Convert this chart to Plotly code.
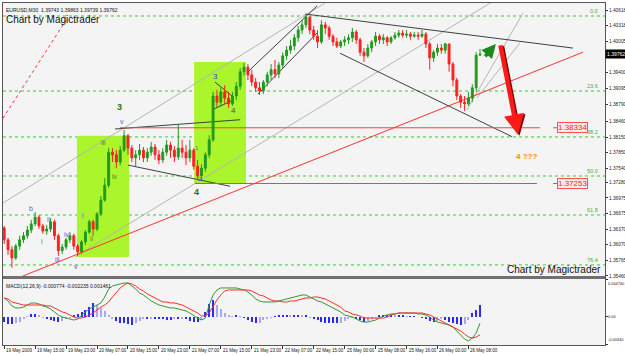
import plotly.graph_objects as go

# ---------------- data (EURUSD hourly bars) ----------------
bar_index = list(range(124))

first_open = 1.3639
closes = [1.3616, 1.3597, 1.3581, 1.3604, 1.3616, 1.3624, 1.3635, 1.3647, 1.3660, 1.3643,
          1.3633, 1.3637, 1.3651, 1.3624, 1.3595, 1.3602, 1.3616, 1.3624, 1.3604, 1.3593,
          1.3612, 1.3631, 1.3651, 1.3637, 1.3666, 1.3693, 1.3722, 1.3786, 1.3781, 1.3767,
          1.3790, 1.3818, 1.3794, 1.3775, 1.3781, 1.3790, 1.3775, 1.3786, 1.3796, 1.3781,
          1.3771, 1.3786, 1.3800, 1.3790, 1.3777, 1.3794, 1.3786, 1.3775, 1.3790, 1.3759,
          1.3740, 1.3755, 1.3781, 1.3810, 1.3895, 1.3883, 1.3903, 1.3891, 1.3880, 1.3895,
          1.3914, 1.3942, 1.3951, 1.3936, 1.3922, 1.3911, 1.3905, 1.3922, 1.3936, 1.3946,
          1.3938, 1.3955, 1.3973, 1.3984, 1.3992, 1.4008, 1.4023, 1.4033, 1.4048, 1.4023,
          1.4011, 1.4000, 1.4033, 1.4027, 1.4011, 1.4000, 1.3992, 1.4000, 1.4004, 1.4008,
          1.4019, 1.4004, 1.3980, 1.3973, 1.3988, 1.4000, 1.4011, 1.4004, 1.4008, 1.4000,
          1.4008, 1.4013, 1.4017, 1.4013, 1.4015, 1.4011, 1.4013, 1.4011, 1.4015, 1.3996,
          1.3969, 1.3980, 1.3988, 1.3984, 1.3996, 1.3957, 1.3926, 1.3895, 1.3883, 1.3880,
          1.3891, 1.3911, 1.39743, 1.39762]
highs = [1.3643, 1.3620, 1.3604, 1.3608, 1.3624, 1.3631, 1.3643, 1.3655, 1.3670, 1.3664,
         1.3647, 1.3645, 1.3658, 1.3655, 1.3628, 1.3608, 1.3620, 1.3631, 1.3628, 1.3608,
         1.3616, 1.3635, 1.3655, 1.3655, 1.3670, 1.3701, 1.3736, 1.3794, 1.3794, 1.3790,
         1.3798, 1.3829, 1.3821, 1.3800, 1.3790, 1.3802, 1.3796, 1.3794, 1.3806, 1.3802,
         1.3790, 1.3794, 1.3810, 1.3806, 1.3798, 1.3839, 1.3810, 1.3800, 1.3810, 1.3794,
         1.3771, 1.3763, 1.3786, 1.3819, 1.3903, 1.3907, 1.3911, 1.3916, 1.3903, 1.3903,
         1.3922, 1.3949, 1.3959, 1.3957, 1.3946, 1.3930, 1.3922, 1.3926, 1.3942, 1.3957,
         1.3965, 1.3961, 1.3980, 1.3992, 1.4004, 1.4015, 1.4031, 1.4042, 1.4054, 1.4050,
         1.4031, 1.4023, 1.4042, 1.4039, 1.4031, 1.4015, 1.4008, 1.4004, 1.4011, 1.4015,
         1.4027, 1.4023, 1.4008, 1.3988, 1.3996, 1.4004, 1.4019, 1.4015, 1.4015, 1.4011,
         1.4011, 1.4019, 1.4023, 1.4023, 1.4023, 1.4019, 1.4019, 1.4019, 1.4023, 1.4019,
         1.4000, 1.3984, 1.3996, 1.3996, 1.3998, 1.3996, 1.3961, 1.3930, 1.3899, 1.3895,
         1.3903, 1.3918, 1.3980, 1.39863]
lows = [1.3608, 1.3587, 1.3562, 1.3577, 1.3597, 1.3610, 1.3618, 1.3629, 1.3643, 1.3637,
        1.3628, 1.3626, 1.3631, 1.3616, 1.3585, 1.3589, 1.3597, 1.3610, 1.3597, 1.3585,
        1.3589, 1.3606, 1.3628, 1.3624, 1.3633, 1.3662, 1.3690, 1.3717, 1.3767, 1.3755,
        1.3761, 1.3786, 1.3781, 1.3767, 1.3759, 1.3771, 1.3767, 1.3767, 1.3779, 1.3771,
        1.3763, 1.3765, 1.3779, 1.3775, 1.3767, 1.3771, 1.3775, 1.3761, 1.3767, 1.3752,
        1.3732, 1.3732, 1.3748, 1.3775, 1.3806, 1.3872, 1.3876, 1.3880, 1.3872, 1.3876,
        1.3887, 1.3907, 1.3934, 1.3926, 1.3914, 1.3903, 1.3897, 1.3899, 1.3914, 1.3926,
        1.3930, 1.3930, 1.3949, 1.3965, 1.3977, 1.3984, 1.4000, 1.4015, 1.4027, 1.4015,
        1.4004, 1.3988, 1.3996, 1.4015, 1.4004, 1.3992, 1.3988, 1.3988, 1.3992, 1.3996,
        1.4000, 1.3996, 1.3973, 1.3961, 1.3969, 1.3980, 1.3992, 1.3996, 1.3996, 1.3992,
        1.3996, 1.4004, 1.4008, 1.4008, 1.4008, 1.4004, 1.4008, 1.4004, 1.4008, 1.3988,
        1.3946, 1.3961, 1.3973, 1.3977, 1.3977, 1.3942, 1.3914, 1.3887, 1.3872, 1.3866,
        1.3876, 1.3883, 1.3903, 1.39739]

macd_main = [0.00238, 0.00200, 0.00138, 0.00113, 0.00113, 0.00125, 0.00150, 0.00175, 0.00175, 0.00163,
             0.00138, 0.00125, 0.00100, 0.00063, 0.00025, 0.00000, -0.00013, -0.00025, -0.00038, -0.00025,
             0.00025, 0.00063, 0.00100, 0.00125, 0.00150, 0.00175, 0.00250, 0.00350, 0.00388, 0.00400,
             0.00413, 0.00425, 0.00425, 0.00388, 0.00350, 0.00300, 0.00275, 0.00238, 0.00200, 0.00175,
             0.00150, 0.00138, 0.00125, 0.00113, 0.00113, 0.00100, 0.00088, 0.00075, 0.00050, 0.00013,
             -0.00013, -0.00038, -0.00013, 0.00150, 0.00275, 0.00338, 0.00363, 0.00363, 0.00363, 0.00363,
             0.00363, 0.00350, 0.00338, 0.00313, 0.00275, 0.00225, 0.00200, 0.00188, 0.00188, 0.00188,
             0.00188, 0.00200, 0.00213, 0.00225, 0.00238, 0.00250, 0.00263, 0.00275, 0.00275, 0.00250,
             0.00225, 0.00200, 0.00188, 0.00163, 0.00138, 0.00113, 0.00088, 0.00063, 0.00025, 0.00013,
             0.00000, -0.00025, -0.00050, -0.00063, -0.00063, -0.00050, -0.00038, -0.00013, 0.00013, 0.00025,
             0.00038, 0.00038, 0.00050, 0.00050, 0.00050, 0.00050, 0.00050, 0.00038, 0.00038, 0.00025,
             0.00000, -0.00038, -0.00063, -0.00075, -0.00088, -0.00100, -0.00125, -0.00175, -0.00225, -0.00275,
             -0.00300, -0.00263, -0.00200, -0.000774]
macd_signal = [0.00238, 0.00225, 0.00188, 0.00175, 0.00163, 0.00150, 0.00150, 0.00150, 0.00150, 0.00150,
               0.00150, 0.00138, 0.00138, 0.00113, 0.00088, 0.00063, 0.00050, 0.00025, 0.00000, -0.00013,
               -0.00013, 0.00000, 0.00025, 0.00050, 0.00088, 0.00125, 0.00150, 0.00188, 0.00250, 0.00313,
               0.00363, 0.00400, 0.00425, 0.00413, 0.00388, 0.00350, 0.00325, 0.00288, 0.00263, 0.00238,
               0.00213, 0.00188, 0.00188, 0.00175, 0.00175, 0.00163, 0.00150, 0.00125, 0.00100, 0.00075,
               0.00050, 0.00013, 0.00013, 0.00050, 0.00138, 0.00213, 0.00275, 0.00325, 0.00338, 0.00338,
               0.00338, 0.00338, 0.00338, 0.00338, 0.00325, 0.00300, 0.00275, 0.00263, 0.00238, 0.00213,
               0.00200, 0.00200, 0.00188, 0.00188, 0.00200, 0.00200, 0.00213, 0.00225, 0.00238, 0.00238,
               0.00250, 0.00250, 0.00238, 0.00225, 0.00200, 0.00175, 0.00150, 0.00125, 0.00075, 0.00063,
               0.00038, 0.00025, 0.00013, -0.00013, -0.00013, -0.00013, -0.00013, -0.00013, -0.00013, 0.00000,
               0.00025, 0.00038, 0.00050, 0.00050, 0.00050, 0.00050, 0.00050, 0.00050, 0.00050, 0.00038,
               0.00025, 0.00000, -0.00025, -0.00050, -0.00075, -0.00100, -0.00125, -0.00150, -0.00175, -0.00213,
               -0.00250, -0.00263, -0.00250, -0.002235]
macd_hist = [-0.0006, -0.0009, -0.0009, -0.0008, -0.0006, -0.0003, 0.0001, 0.0004, 0.0004, 0.0002,
             -0.0001, -0.0002, -0.0004, -0.0005, -0.0006, -0.0005, -0.0003, -0.0001, 0.0002, 0.0004,
             0.0006, 0.0009, 0.0012, 0.0018, 0.0015, 0.0011, 0.0007, 0.0003, -0.0002, -0.0005,
             -0.0007, -0.0008, -0.0009, -0.0010, -0.0008, -0.0005, -0.0003, -0.0003, -0.0002, -0.0002,
             -0.0003, -0.0003, -0.0004, -0.0004, -0.0003, -0.0003, -0.0002, -0.0003, -0.0005, -0.0006,
             -0.0006, -0.0004, 0.0006, 0.0016, 0.0021, 0.0015, 0.0010, 0.0005, 0.0002, 0.0001,
             0.0002, 0.0001, -0.0001, -0.0004, -0.0006, -0.0008, -0.0007, -0.0004, -0.0002, -0.0001,
             0.0001, 0.0002, 0.0002, 0.0003, 0.0002, 0.0003, 0.0003, 0.0002, 0.0002, -0.0001,
             -0.0003, -0.0004, -0.0006, -0.0007, -0.0008, -0.0008, -0.0008, -0.0007, -0.0005, -0.0002,
             -0.0001, -0.0002, -0.0004, -0.0006, -0.0005, -0.0003, -0.0001, 0.0002, 0.0003, 0.0003,
             0.0003, 0.0002, 0.0002, 0.0002, 0.0001, 0.0001, 0.0001, 0.0000, -0.0001, -0.0003,
             -0.0005, -0.0006, -0.0005, -0.0003, -0.0004, -0.0006, -0.0008, -0.0009, -0.0010, -0.0009,
             -0.0004, 0.0005, 0.0009, 0.001461]

date_tick_index = [0, 8, 16, 24, 32, 40, 48, 56, 64, 72, 80, 88, 96, 104, 112, 120]
date_tick_text = ["19 May 2009", "19 May 15:00", "19 May 23:00", "20 May 07:00", "20 May 15:00",
                  "20 May 23:00", "21 May 07:00", "21 May 15:00", "21 May 23:00", "22 May 07:00",
                  "22 May 15:00", "25 May 00:00", "25 May 08:00", "25 May 16:00", "26 May 00:00",
                  "26 May 08:00"]

price_ticks = [1.40618, 1.40318, 1.40005, 1.39400, 1.39095, 1.38790, 1.38460, 1.38150, 1.37850,
               1.37540, 1.37280, 1.36975, 1.36675, 1.36370, 1.36070, 1.35765, 1.35460]
fib_levels = [1.40502, 1.39047, 1.38156, 1.37399, 1.36643, 1.35674]
fib_labels = ["0.0", "23.6", "38.2", "50.0", "61.8", "76.4"]
level_lines = [1.38334, 1.37253]
last_price = 1.39762
macd_ticks = [0.00474, 0.0, -0.0034]
macd_tick_text = ["0.004740", "0.00", "-0.00340"]

# ---------------- figure ----------------
opens = [first_open] + closes[:-1]
FONT = "Liberation Sans"

fig = go.Figure()
fig.add_trace(go.Candlestick(
    x=bar_index, open=opens, high=highs, low=lows, close=closes,
    increasing=dict(line=dict(color="#1f9a1f", width=1), fillcolor="#1f9a1f"),
    decreasing=dict(line=dict(color="#ff2020", width=1), fillcolor="#ff2020"),
    whiskerwidth=0, xaxis="x", yaxis="y", showlegend=False, hoverinfo="skip"))

hist_colors = []
for i, h in enumerate(macd_hist):
    prev = macd_hist[i - 1] if i > 0 else 0
    hist_colors.append("#2a2aff" if abs(h) >= abs(prev) else "#a8a8f5")
fig.add_trace(go.Bar(x=bar_index, y=macd_hist, marker=dict(color=hist_colors, line=dict(width=0)),
                     width=0.26, xaxis="x2", yaxis="y2", showlegend=False, hoverinfo="skip"))
fig.add_trace(go.Scatter(x=bar_index, y=macd_main, mode="lines", line=dict(color="#2e9a2e", width=1),
                         xaxis="x2", yaxis="y2", showlegend=False, hoverinfo="skip"))
fig.add_trace(go.Scatter(x=bar_index, y=macd_signal, mode="lines", line=dict(color="#ff2a2a", width=1),
                         xaxis="x2", yaxis="y2", showlegend=False, hoverinfo="skip"))

shapes = []
annotations = []

# green highlight boxes (below candles)
for x0, x1, y0, y1 in [(18.8, 32.3, 1.3583, 1.3818), (49.1, 62.5, 1.3726, 1.3961)]:
    shapes.append(dict(type="rect", xref="x", yref="y", x0=x0, x1=x1, y0=y0, y1=y1,
                       fillcolor="#abf52c", line=dict(width=0), layer="below"))

# fibonacci dotted levels
for lv, lb in zip(fib_levels, fib_labels):
    shapes.append(dict(type="line", xref="paper", yref="y", x0=0, x1=1, y0=lv, y1=lv,
                       line=dict(color="#3cc83c", width=1, dash="dot"), layer="below"))
    annotations.append(dict(x=0.992, xref="paper", y=lv, yref="y", text=lb, showarrow=False,
                            xanchor="right", yanchor="bottom", font=dict(size=5.5, color="#40b040", family=FONT)))

def seg(x0, y0, x1, y1, color, width=1, dash="solid", layer="below"):
    shapes.append(dict(type="line", xref="x", yref="y", x0=x0, y0=y0, x1=x1, y1=y1,
                       line=dict(color=color, width=width, dash=dash), layer=layer))

# gray channel lines
seg(-1.08, 1.3684, 84.2, 1.40812, "#b4b4b4")
seg(18.3, 1.3583, 126.9, 1.40812, "#b4b4b4")
seg(119.6, 1.3868, 134.1, 1.4056, "#b4b4b4")
seg(122.2, 1.3891, 133.3, 1.3998, "#b4b4b4")
# dark trend lines
seg(77.8, 1.4054, 147.0, 1.3988, "#404040")
seg(86.8, 1.3978, 131.3, 1.3816, "#404040")
seg(63.0, 1.3942, 80.9, 1.4070, "#404040")
seg(65.6, 1.3899, 81.1, 1.4019, "#404040")
seg(54.5, 1.3922, 59.2, 1.3893, "#404040")
seg(53.7, 1.3868, 59.2, 1.3887, "#404040")
seg(28.65, 1.3831, 61.0, 1.3849, "#404040")
seg(32.0, 1.3761, 58.4, 1.3720, "#404040")
# red lines
seg(-0.3, 1.3852, 16.5, 1.4048, "#ff3030", dash="dot")
seg(4.87, 1.3546, 149.6, 1.3980, "#ff3030")
seg(29.9, level_lines[0], 138.5, level_lines[0], "#ff4040")
seg(49.3, level_lines[1], 137.7, level_lines[1], "#ff4040")

# price boxes
for lv in level_lines:
    seg(141.9, lv, 143.3, lv, "#ff4040", width=1, layer="above")
    annotations.append(dict(x=147.0, y=lv, xref="x", yref="y", text=f"{lv:.5f}", showarrow=False,
                            font=dict(size=8, color="#ff2020", family=FONT), bgcolor="#fbeaea",
                            bordercolor="#ff5050", borderwidth=1, borderpad=0))

# arrows
annotations.append(dict(x=133.2, y=1.3818, ax=128.6, ay=1.3994, xref="x", yref="y", axref="x", ayref="y",
                        text="", showarrow=True, arrowhead=2, arrowsize=0.9, arrowwidth=4.5, arrowcolor="#7a0000"))
annotations.append(dict(x=132.8, y=1.3820, ax=128.2, ay=1.3996, xref="x", yref="y", axref="x", ayref="y",
                        text="", showarrow=True, arrowhead=2, arrowsize=0.9, arrowwidth=4.5, arrowcolor="#ff1a1a"))
annotations.append(dict(x=127.1, y=1.3996, ax=124.0, ay=1.3969, xref="x", yref="y", axref="x", ayref="y",
                        text="", showarrow=True, arrowhead=2, arrowsize=0.8, arrowwidth=3.5, arrowcolor="#1a8a1a"))

def label(x, y, text, color, size=7, bold=False):
    annotations.append(dict(x=x, y=y, xref="x", yref="y", showarrow=False,
                            text=f"<b>{text}</b>" if bold else text,
                            font=dict(size=size, color=color, family=FONT)))

wave_blue = "#5a5ad2"
label(29.9, 1.3874, "3", "#1a7a1a", 9, True)
label(30.5, 1.3845, "v", wave_blue)
label(25.55, 1.3804, "iii", "#5a7a2a")
label(28.65, 1.3738, "iv", "#5a7a2a")
label(20.4, 1.3664, "i", wave_blue)
label(22.7, 1.3618, "ii", "#5a8a2a")
label(6.94, 1.3676, "b", wave_blue)
label(9.78, 1.3612, "i", wave_blue)
label(11.6, 1.3655, "ii", wave_blue)
label(13.9, 1.3577, "iii", wave_blue)
label(16.2, 1.3626, "iv", wave_blue)
label(18.6, 1.3565, "v", wave_blue)
label(49.6, 1.3709, "4", "#1a7a1a", 9, True)
label(49.9, 1.3794, "1", wave_blue, 6)
label(50.6, 1.3734, "2", wave_blue, 6)
label(54.5, 1.3932, "3", "#3a3ab8", 8)
label(59.4, 1.3866, "4", "#3a3ab8", 8)
label(134.9, 1.3777, "4 ???", "#ff8a00", 8, True)

# texts in paper coordinates
annotations.append(dict(x=0.002, y=0.995, xref="paper", yref="paper", xanchor="left", yanchor="top",
                        text="EURUSD,M30  1.39743 1.39863 1.39739 1.39762", showarrow=False,
                        font=dict(size=5, color="#111", family=FONT)))
annotations.append(dict(x=0.002, y=0.975, xref="paper", yref="paper", xanchor="left", yanchor="top",
                        text="Chart by Magictrader", showarrow=False, font=dict(size=10, color="#111", family=FONT)))
annotations.append(dict(x=0.997, y=0.199, xref="paper", yref="paper", xanchor="right", yanchor="bottom",
                        text="Chart by Magictrader", showarrow=False, font=dict(size=10, color="#111", family=FONT)))
annotations.append(dict(x=0.002, y=0.188, xref="paper", yref="paper", xanchor="left", yanchor="top",
                        text="MACD(12,26,9) -0.000774 -0.002235 0.001461", showarrow=False,
                        font=dict(size=5, color="#111", family=FONT)))
# current price tag on axis
annotations.append(dict(x=1.0, y=last_price, xref="paper", yref="y", xanchor="left", text=f"{last_price:.5f}",
                        showarrow=False, bgcolor="#000", font=dict(size=5, color="#fff", family=FONT),
                        borderpad=1))
# date labels (left aligned like MT4)
for xi, t in zip(date_tick_index, date_tick_text):
    annotations.append(dict(x=xi, y=-0.004, xref="x2", yref="paper", xanchor="left", yanchor="top",
                            text=t, showarrow=False, font=dict(size=4.5, color="#111", family=FONT)))
# MACD scale labels (placed slightly inside the panel so they do not collide)
for v, t, anchor in zip(macd_ticks, macd_tick_text, ["top", "middle", "bottom"]):
    annotations.append(dict(x=1.0, xshift=1, y=v, xref="paper", yref="y2", xanchor="left", yanchor=anchor,
                            text=t, showarrow=False, font=dict(size=3.9, color="#222", family=FONT)))

# separator between panels
shapes.append(dict(type="line", xref="paper", yref="paper", x0=0, x1=1, y0=0.1975, y1=0.1975,
                   line=dict(color="#707070", width=3)))

XR = [-0.3, 155.3]
fig.update_layout(
    width=625, height=355,
    margin=dict(l=3, r=20, t=3, b=10),
    paper_bgcolor="#ffffff", plot_bgcolor="#f4f4f4",
    showlegend=False, bargap=0,
    xaxis=dict(domain=[0, 1], range=XR, anchor="y", showgrid=False, zeroline=False,
               showticklabels=False, rangeslider=dict(visible=False),
               showline=True, mirror=True, linecolor="#555", linewidth=1),
    yaxis=dict(domain=[0.199, 1], range=[1.35441, 1.40754], side="right", anchor="x",
               tickvals=price_ticks, ticktext=[f"{v:.5f}" for v in price_ticks],
               ticks="outside", ticklen=2, tickcolor="#333",
               tickfont=dict(size=4.8, color="#222", family=FONT), showgrid=False, zeroline=False,
               showline=True, mirror=True, linecolor="#555", linewidth=1, automargin=False),
    xaxis2=dict(domain=[0, 1], range=XR, anchor="y2", showgrid=False, zeroline=False,
                tickvals=date_tick_index, ticktext=[""] * len(date_tick_index), ticks="outside",
                ticklen=3, tickcolor="#333", showline=True, mirror=True, linecolor="#555", linewidth=1),
    yaxis2=dict(domain=[0, 0.193], range=[-0.0035, 0.00475], side="right", anchor="x2",
                tickvals=macd_ticks, ticktext=[""] * 3, ticks="outside", ticklen=2, tickcolor="#333",
                showgrid=False, zeroline=False,
                showline=True, mirror=True, linecolor="#555", linewidth=1, automargin=False),
    shapes=shapes, annotations=annotations,
)

fig.write_html("out.html")
